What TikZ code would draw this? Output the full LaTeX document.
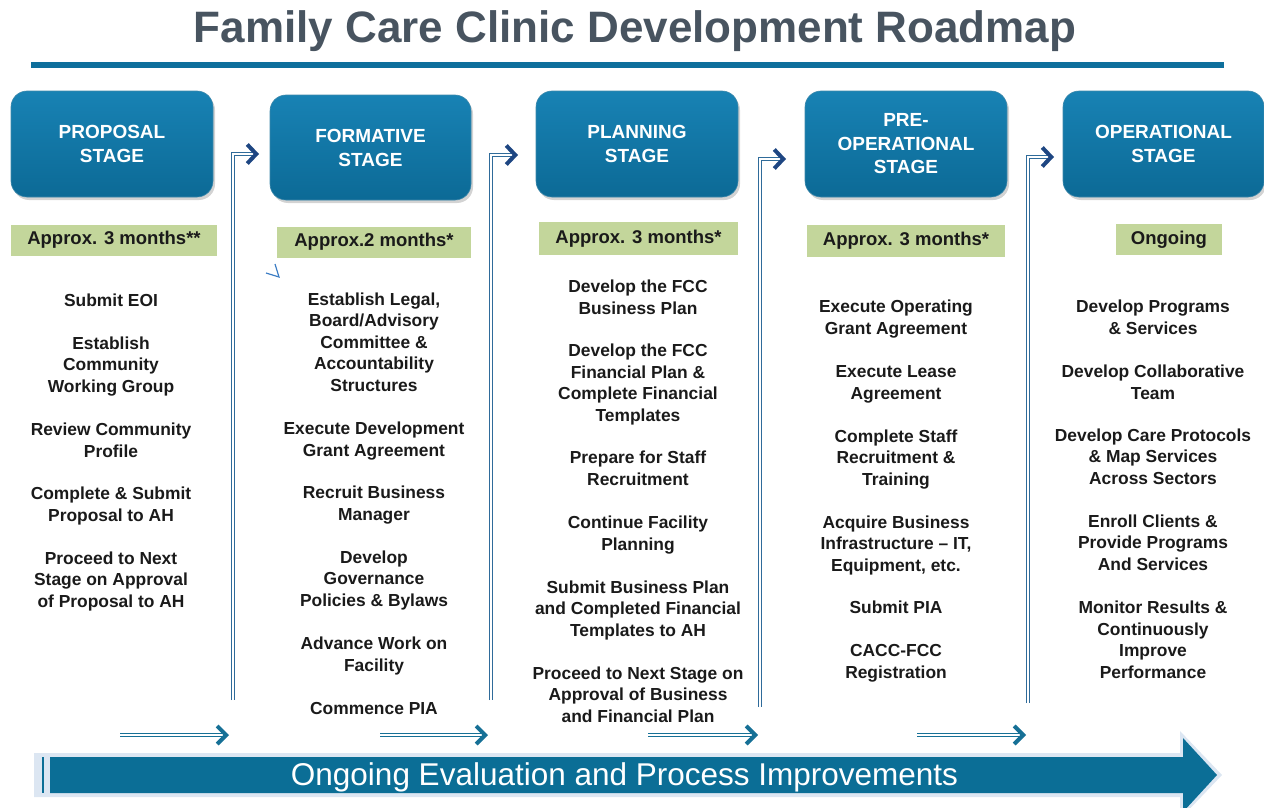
\documentclass[tikz,border=0pt]{standalone}
\usepackage{fontspec}
\setmainfont{Liberation Sans}
\usetikzlibrary{arrows.meta,shadows}
\definecolor{titlecol}{RGB}{72,84,96}
\definecolor{rulecol}{RGB}{14,111,156}
\definecolor{boxtop}{RGB}{24,130,180}
\definecolor{boxbot}{RGB}{12,106,150}
\definecolor{greenbox}{RGB}{195,214,155}
\definecolor{bodycol}{RGB}{26,26,26}
\definecolor{conncol}{RGB}{47,107,154}
\definecolor{headcol}{RGB}{30,70,130}
\definecolor{tealcol}{RGB}{22,112,150}
\definecolor{arrowlight}{RGB}{220,230,242}
\definecolor{arrowdark}{RGB}{11,110,150}
\definecolor{markcol}{RGB}{60,125,196}
\tikzset{
  stagebox/.style={rounded corners=16pt, minimum width=202pt, minimum height=106pt,
    top color=boxtop, bottom color=boxbot, draw=boxbot!80!white, line width=0.6pt,
    drop shadow={shadow xshift=2pt, shadow yshift=-3pt, opacity=0.35},
    text=white, font=\fontsize{19}{24}\selectfont\bfseries, align=center, inner sep=0pt},
  timebox/.style={fill=greenbox, minimum height=31pt, inner sep=0pt, text=bodycol,
    font=\fontsize{18.5}{22}\selectfont\bfseries},
  txt/.style={anchor=base, align=center, inner sep=0pt, text=bodycol,
    font=\fontsize{17.4}{21.5}\selectfont\bfseries},
  vshaft/.style={draw=conncol, line width=0.9pt, double=white, double distance=1.8pt},
  vhead/.style={draw=headcol, -{Straight Barb[length=9pt, width=19pt, line width=4pt]}, line width=0.1pt},
  hshaft/.style={draw=tealcol, line width=0.9pt, double=white, double distance=1.8pt},
  hhead/.style={draw=tealcol, -{Straight Barb[length=9pt, width=18pt, line width=4pt]}, line width=0.1pt}
}
\begin{document}
\begin{tikzpicture}[x=1pt,y=-1pt]
\useasboundingbox (0,0) rectangle (1264,808);
% title
\node[text=titlecol, font=\fontsize{44}{50}\selectfont\bfseries] (title) at (635,31) {Family Care Clinic Development Roadmap};
\fill[rulecol] (31,62) rectangle (1224,68);

% stage boxes
\node[stagebox] (s1) at (112,144) {PROPOSAL\\STAGE};
\node[stagebox, minimum width=201pt, minimum height=105pt] (s2) at (370.5,147.5) {FORMATIVE\\STAGE};
\node[stagebox] (s3) at (637,144) {PLANNING\\STAGE};
\node[stagebox, font=\fontsize{19}{23.5}\selectfont\bfseries] (s4) at (906,144) {PRE-\\OPERATIONAL\\STAGE};
\node[stagebox, minimum width=201pt] (s5) at (1163.5,144) {OPERATIONAL\\STAGE};

% time boxes
\node[timebox, minimum width=206pt] (g1) at (114,240) {Approx. 3 months**};
\node[timebox, minimum width=194pt] (g2) at (374,242) {Approx.2 months*};
\node[timebox, minimum width=199pt, minimum height=33pt] (g3) at (638.5,238.5) {Approx. 3 months*};
\node[timebox, minimum width=198pt, minimum height=32pt] (g4) at (906,241) {Approx. 3 months*};
\node[timebox, minimum width=106pt] (g5) at (1169,239.5) {Ongoing};

% small mark
\draw[markcol, line width=1.2pt] (266,273) -- (279,277) -- (275,264);

% column 1 (anchor = baseline of last line)
\node[txt] (a1) at (111,306) {Submit EOI};
\node[txt] (a2) at (111,392) {Establish\\Community\\Working Group};
\node[txt] (a3) at (111,457) {Review Community\\Profile};
\node[txt] (a4) at (111,521) {Complete \& Submit\\Proposal to AH};
\node[txt] (a5) at (111,607) {Proceed to Next\\Stage on Approval\\of Proposal to AH};

% column 2
\node[txt] (b1) at (374,391) {Establish Legal,\\Board/Advisory\\Committee \&\\Accountability\\Structures};
\node[txt] (b2) at (374,456) {Execute Development\\Grant Agreement};
\node[txt] (b3) at (374,520) {Recruit Business\\Manager};
\node[txt] (b4) at (374,606) {Develop\\Governance\\Policies \& Bylaws};
\node[txt] (b5) at (374,671) {Advance Work on\\Facility};
\node[txt] (b6) at (374,714) {Commence PIA};

% column 3
\node[txt] (c1) at (638,314) {Develop the FCC\\Business Plan};
\node[txt] (c2) at (638,421) {Develop the FCC\\Financial Plan \&\\Complete Financial\\Templates};
\node[txt] (c3) at (638,485) {Prepare for Staff\\Recruitment};
\node[txt] (c4) at (638,550) {Continue Facility\\Planning};
\node[txt] (c5) at (638,636) {Submit Business Plan\\and Completed Financial\\Templates to AH};
\node[txt] (c6) at (638,722) {Proceed to Next Stage on\\Approval of Business\\and Financial Plan};

% column 4
\node[txt] (d1) at (896,334) {Execute Operating\\Grant Agreement};
\node[txt] (d2) at (896,399) {Execute Lease\\Agreement};
\node[txt] (d3) at (896,485) {Complete Staff\\Recruitment \&\\Training};
\node[txt] (d4) at (896,571) {Acquire Business\\Infrastructure – IT,\\Equipment, etc.};
\node[txt] (d5) at (896,613) {Submit PIA};
\node[txt] (d6) at (896,678) {CACC-FCC\\Registration};

% column 5
\node[txt] (e1) at (1153,334) {Develop Programs\\\& Services};
\node[txt] (e2) at (1153,399) {Develop Collaborative\\Team};
\node[txt] (e3) at (1153,484) {Develop Care Protocols\\\& Map Services\\Across Sectors};
\node[txt] (e4) at (1153,570) {Enroll Clients \&\\Provide Programs\\And Services};
\node[txt] (e5) at (1153,678) {Monitor Results \&\\Continuously\\Improve\\Performance};

% vertical connectors
\coordinate (v1a) at (233,700); \coordinate (v1b) at (259,154);
\coordinate (v2a) at (491,700); \coordinate (v2b) at (518,155);
\coordinate (v3a) at (760,707); \coordinate (v3b) at (786,159);
\coordinate (v4a) at (1028,703); \coordinate (v4b) at (1054,157);
\foreach \i in {1,2,3,4}{
  \draw[vshaft, shorten >=4pt] (v\i a) |- (v\i b);
  \draw[vhead] ([xshift=-3pt]v\i b) -- (v\i b);
}

% bottom horizontal arrows
\coordinate (h1a) at (120,735); \coordinate (h1b) at (229,735);
\coordinate (h2a) at (380,735); \coordinate (h2b) at (488,735);
\coordinate (h3a) at (648,735); \coordinate (h3b) at (758,735);
\coordinate (h4a) at (917,735); \coordinate (h4b) at (1026,735);
\foreach \i in {1,2,3,4}{
  \draw[hshaft, shorten >=4pt] (h\i a) -- (h\i b);
  \draw[hhead] ([xshift=-3pt]h\i b) -- (h\i b);
}

% big bottom arrow
\fill[arrowlight] (34,753) -- (1180,753) -- (1180,731) -- (1222,775) -- (1180,819) -- (1180,797) -- (34,797) -- cycle;
\fill[arrowdark] (50,757) -- (1183,757) -- (1183,738) -- (1217,775) -- (1183,812) -- (1183,793) -- (50,793) -- cycle;
\draw[arrowdark, line width=1.5pt] (43,757) -- (43,793);
\node[text=white, font=\fontsize{31.5}{36}\selectfont, inner sep=0pt] (bottomtext) at (624.5,777) {Ongoing Evaluation and Process Improvements};
\end{tikzpicture}
\end{document}
